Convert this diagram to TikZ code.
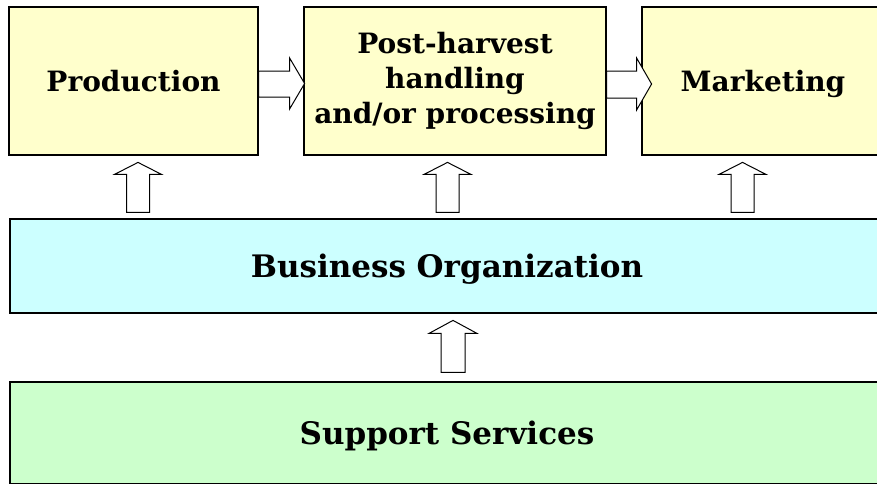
\documentclass[tikz,border=0pt]{standalone}
\usepackage{fontspec}
\setmainfont{DejaVu Serif}
\usetikzlibrary{calc}

\definecolor{boxyellow}{HTML}{FFFFCC}
\definecolor{boxcyan}{HTML}{CCFFFF}
\definecolor{boxgreen}{HTML}{CCFFCC}

\tikzset{
  stage/.style = {draw, line width = 1.2pt, fill = boxyellow,
    minimum height = 148pt, inner sep = 0pt, align = center,
    font = \fontsize{28}{35}\selectfont\bfseries},
  oneline/.style = {text depth = 0pt},
  band/.style = {stage, oneline, minimum width = 874pt,
    font = \fontsize{31}{35}\selectfont\bfseries},
  blockarrow/.style = {draw, fill = white, line width = 1pt, line join = miter}
}

\begin{document}
\begin{tikzpicture}[x = 1pt, y = -1pt]
    \useasboundingbox (0,0) rectangle (877,483);
    % the three stages of the chain
    \node [stage, oneline, minimum width = 249pt] (prod) at (133.5,81)
    {Production};
    \node [stage, minimum width = 302pt] (post) at (455,81)
    {Post-harvest\\handling\\and/or processing};
    \node [stage, oneline, minimum width = 242pt] (mark) at (763,81)
    {Marketing};
    % the two bands below
    \node [band, fill = boxcyan, minimum height = 94pt] (biz) at (447,266)
    {Business Organization};
    \node [band, fill = boxgreen, minimum height = 102pt] (supp) at (447,433)
    {Support Services};
    % arrows along the chain
    \draw [blockarrow] ($(prod.east)+(0,-10)$) -- ++(31,0) -- ++(0,-13)
    -- ++(15,25.5) -- ++(-15,25.5) -- ++(0,-12) -- ++(-31,0) -- cycle;
    \draw [blockarrow] ($(post.east)+(0,-10)$) -- ++(30,0) -- ++(0,-13)
    -- ++(15,26) -- ++(-15,26) -- ++(0,-12) -- ++(-30,0) -- cycle;
    % arrows up from the business band
    \foreach \x in {138,447.5,742.5}
      \draw [blockarrow] ($(biz.north -| \x,0)+(-11.5,-6)$) -- ++(0,-38)
      -- ++(-12,0) -- ++(23.5,-12) -- ++(23.5,12) -- ++(-12,0)
      -- ++(0,38) -- cycle;
    % arrow up from the support band
    \draw [blockarrow] ($(supp.north -| 453,0)+(-12,-9)$) -- ++(0,-39)
    -- ++(-12,0) -- ++(24,-13) -- ++(24,13) -- ++(-12,0)
    -- ++(0,39) -- cycle;
\end{tikzpicture}
\end{document}
